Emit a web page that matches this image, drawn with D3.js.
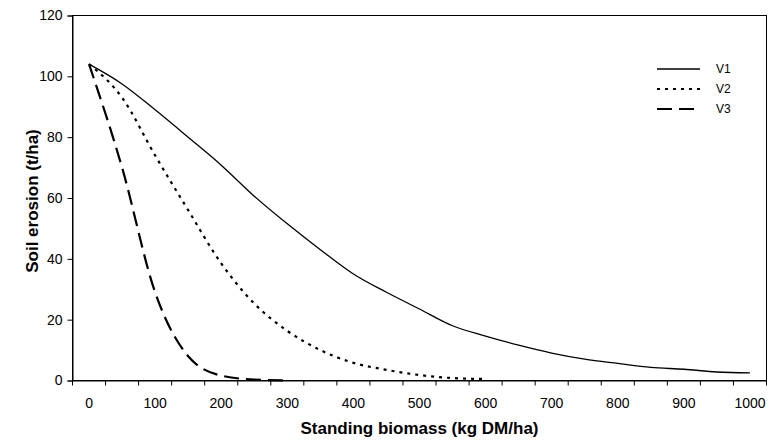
<!DOCTYPE html>
<html>
<head>
<meta charset="utf-8">
<script src="https://cdn.jsdelivr.net/npm/d3@7"></script>
<style>
  html, body { margin: 0; padding: 0; background: #fff; }
  svg { display: block; font-family: "Liberation Sans", Arial, sans-serif; }
</style>
</head>
<body>
<svg id="chart" width="769" height="445"></svg>
<script>
// ---- data ----
const categories = [0, 50, 100, 150, 200, 250, 300, 350, 400, 450, 500, 550, 600, 650, 700, 750, 800, 850, 900, 950, 1000];
const xTickLabels = [0, 100, 200, 300, 400, 500, 600, 700, 800, 900, 1000];
const yTickLabels = [0, 20, 40, 60, 80, 100, 120];
const seriesNames = ["V1", "V2", "V3"];
const v1 = [104, 97.5, 89, 80, 70.8, 60.6, 51.5, 43, 35, 29, 23.5, 18, 14.6, 11.6, 9, 7, 5.6, 4.3, 3.7, 2.8, 2.5];
const v2 = [104, 93, 74, 56, 38.5, 25.3, 16.3, 10, 5.8, 3.5, 1.8, 0.8, 0.5];
const v3 = [104, 70, 29, 8, 1.6, 0.3, 0];

(function () {
const svg = d3.select("#chart");
const pL = 72.5, pR = 766.5, pT = 15.5, pB = 380.5;

const x = d3.scaleBand().domain(categories).range([pL, pR]).padding(0);
const y = d3.scaleLinear().domain([0, 120]).range([pB, pT]);
const cx = d => x(d) + x.bandwidth() / 2;

// plot box
svg.append("rect")
  .attr("x", pL).attr("y", pT)
  .attr("width", pR - pL).attr("height", pB - pT)
  .attr("fill", "none").attr("stroke", "#000").attr("stroke-width", 1);

// y axis
const yAxis = d3.axisLeft(y).tickValues(yTickLabels).tickSize(5).tickPadding(5);
const gy = svg.append("g").attr("transform", `translate(${pL},0)`).call(yAxis);
gy.select(".domain").attr("stroke", "#000");
gy.selectAll(".tick line").attr("stroke", "#000");
gy.selectAll(".tick text").attr("font-size", 14).attr("fill", "#000")
  .attr("font-family", "Liberation Sans, Arial, sans-serif");

// x axis: labels at category centres, ticks at category boundaries
const xAxis = d3.axisBottom(x).tickValues(xTickLabels).tickSize(0).tickPadding(18);
const gx = svg.append("g").attr("transform", `translate(0,${pB})`).call(xAxis);
gx.select(".domain").attr("stroke", "#000");
gx.selectAll(".tick text").attr("font-size", 14).attr("fill", "#000")
  .attr("font-family", "Liberation Sans, Arial, sans-serif");
const bounds = categories.map(c => x(c)).concat([x(categories[categories.length - 1]) + x.bandwidth()]);
gx.selectAll("line.cat").data(bounds).enter().append("line")
  .attr("class", "cat")
  .attr("x1", d => d).attr("x2", d => d)
  .attr("y1", 0).attr("y2", 5)
  .attr("stroke", "#000");

// series
const line = d3.line()
  .x((d, i) => cx(categories[i]))
  .y(d => y(d))
  .curve(d3.curveMonotoneX);

const styles = [
  { data: v1, dash: null, width: 1.3 },
  { data: v2, dash: "3,5", width: 2.2 },
  { data: v3, dash: "15,7", width: 2.2 }
];
styles.forEach(s => {
  svg.append("path")
    .attr("d", line(s.data))
    .attr("fill", "none")
    .attr("stroke", "#000")
    .attr("stroke-width", s.width)
    .attr("stroke-dasharray", s.dash);
});

// legend
const legend = svg.append("g");
const legY = [69, 89, 109];
seriesNames.forEach((name, i) => {
  legend.append("line")
    .attr("x1", 657).attr("x2", 700)
    .attr("y1", legY[i]).attr("y2", legY[i])
    .attr("stroke", "#000")
    .attr("stroke-width", styles[i].width)
    .attr("stroke-dasharray", styles[i].dash);
  legend.append("text")
    .attr("x", 716).attr("y", legY[i])
    .attr("dy", "0.35em")
    .attr("font-size", 12)
    .text(name);
});

// axis titles
svg.append("text")
  .attr("x", (pL + pR) / 2).attr("y", 434)
  .attr("text-anchor", "middle")
  .attr("font-size", 17).attr("font-weight", "bold")
  .text("Standing biomass (kg DM/ha)");

svg.append("text")
  .attr("transform", "translate(38,201) rotate(-90)")
  .attr("text-anchor", "middle")
  .attr("font-size", 17).attr("font-weight", "bold")
  .text("Soil erosion (t/ha)");
})();
</script>
</body>
</html>
